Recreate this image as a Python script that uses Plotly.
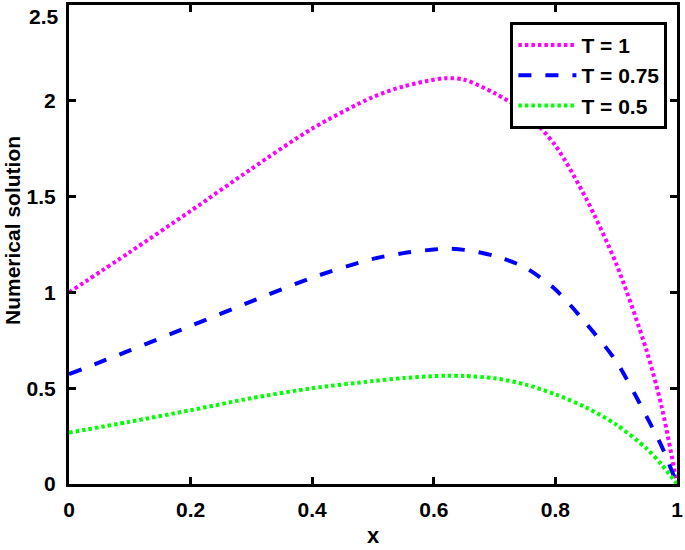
import plotly.graph_objects as go

x_vals = [0, 0.1, 0.2, 0.3, 0.4, 0.5, 0.55, 0.6, 0.62, 0.65, 0.7, 0.75, 0.8, 0.85, 0.9, 0.95, 0.975, 1.0]
y_T1 = [1.0, 1.21, 1.425, 1.645, 1.855, 2.02, 2.075, 2.11, 2.118, 2.11, 2.04, 1.94, 1.766, 1.493, 1.15, 0.696, 0.40, 0.0]
y_T075 = [0.573, 0.697, 0.825, 0.953, 1.077, 1.175, 1.205, 1.224, 1.228, 1.222, 1.19, 1.13, 1.015, 0.84, 0.64, 0.352, 0.195, 0.0]
y_T05 = [0.268, 0.325, 0.385, 0.448, 0.50, 0.537, 0.553, 0.563, 0.565, 0.564, 0.552, 0.52, 0.468, 0.40, 0.31, 0.185, 0.10, 0.0]
series_names = ["T = 1", "T = 0.75", "T = 0.5"]

x_ticks = [0, 0.2, 0.4, 0.6, 0.8, 1]
x_ticklabels = ["0", "0.2", "0.4", "0.6", "0.8", "1"]
y_ticks = [0, 0.5, 1, 1.5, 2, 2.5]
y_ticklabels = ["0", "0.5", "1", "1.5", "2", "2.5"]

FONT = "Liberation Sans, Arial, sans-serif"
TICK_SIZE = 21

fig = go.Figure()
fig.add_trace(go.Scatter(x=x_vals, y=y_T1, mode="lines", name=series_names[0],
                         line=dict(color="#FF00FF", width=4, dash="3.5px,3px", shape="spline", smoothing=0.8)))
fig.add_trace(go.Scatter(x=x_vals, y=y_T075, mode="lines", name=series_names[1],
                         line=dict(color="#0000FF", width=4, dash="13px,14px", shape="spline", smoothing=0.8)))
fig.add_trace(go.Scatter(x=x_vals, y=y_T05, mode="lines", name=series_names[2],
                         line=dict(color="#00FF00", width=4, dash="3.5px,3px", shape="spline", smoothing=0.8)))

axis_common = dict(showline=True, linecolor="black", linewidth=3, mirror="ticks",
                   ticks="inside", ticklen=7, tickwidth=3, tickcolor="black",
                   showgrid=False, zeroline=False, ticklabeloverflow="allow",
                   tickfont=dict(family=FONT, size=TICK_SIZE, color="black", weight="bold"))

# top y tick label is drawn below its tick (as in the reference), so it is placed as an annotation
y_ticktext_axis = y_ticklabels[:-1] + [""]

fig.update_xaxes(range=[0, 1], tickvals=x_ticks, ticktext=x_ticklabels,
                 ticklabelstandoff=5, **axis_common)
fig.update_yaxes(range=[0, 2.5], tickvals=y_ticks, ticktext=y_ticktext_axis,
                 ticklabelstandoff=6, **axis_common)

fig.update_layout(
    width=685, height=550,
    margin=dict(l=69, r=2, t=5, b=66),
    paper_bgcolor="white", plot_bgcolor="white",
    showlegend=True,
    legend=dict(x=0.726, y=0.965, xanchor="left", yanchor="top",
                bgcolor="white", bordercolor="black", borderwidth=3,
                font=dict(family=FONT, size=21, color="black", weight="bold"),
                itemwidth=58, tracegroupgap=0),
    annotations=[
        dict(text=y_ticklabels[-1], xref="paper", yref="y", x=0, y=y_ticks[-1], xanchor="right", yanchor="top",
             xshift=-8, yshift=2, showarrow=False,
             font=dict(family=FONT, size=TICK_SIZE, color="black", weight="bold")),
        dict(text="x", xref="paper", yref="paper", x=0.5, y=-0.107, xanchor="center", yanchor="middle",
             showarrow=False, font=dict(family=FONT, size=22, color="black", weight="bold")),
        dict(text="Numerical solution", xref="paper", yref="paper", x=-0.094, y=0.53,
             xanchor="center", yanchor="middle", textangle=-90, showarrow=False,
             font=dict(family=FONT, size=21, color="black", weight="bold")),
    ],
)

fig.write_html("out.html", config={"displayModeBar": False},
               post_script="document.body.style.margin='0';document.body.style.padding='0';document.body.style.overflow='hidden';")
